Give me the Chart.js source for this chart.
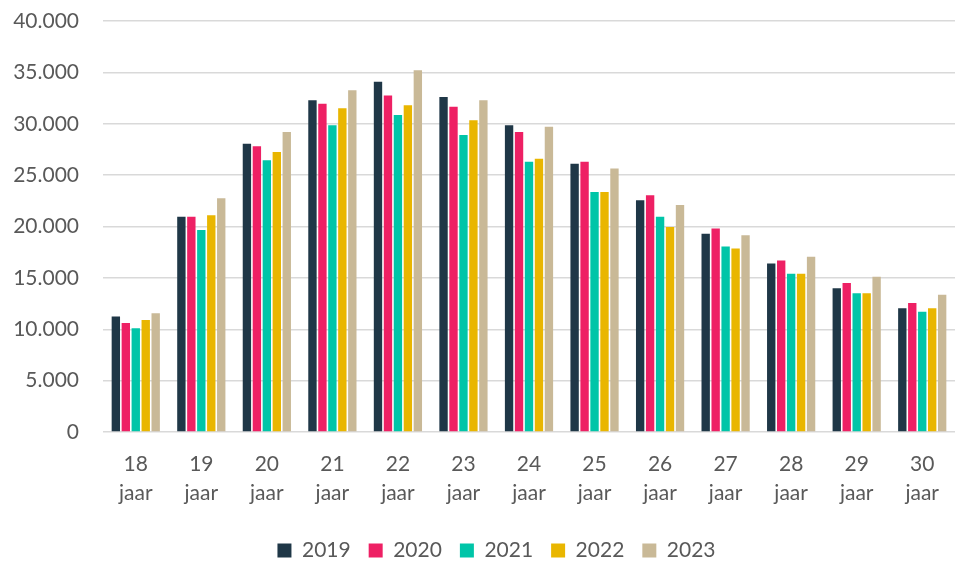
<!DOCTYPE html>
<html>
<head>
<meta charset="utf-8">
<script src="https://cdn.jsdelivr.net/npm/chart.js@4"></script>
<style>
  html, body { margin: 0; padding: 0; background: #fff; }
  #wrap { width: 957px; height: 563px; }
</style>
</head>
<body>
<div id="wrap"><canvas id="chart"></canvas></div>
<script>
// Leeftijden op de x-as
const ages = ['18', '19', '20', '21', '22', '23', '24', '25', '26', '27', '28', '29', '30'];

// Aantallen per jaar
const y2019 = [11250, 20950, 28050, 32300, 34100, 32600, 29850, 26100, 22550, 19300, 16400, 14000, 12050];
const y2020 = [10600, 20950, 27800, 31950, 32750, 31650, 29200, 26300, 23050, 19800, 16700, 14500, 12550];
const y2021 = [10100, 19650, 26450, 29850, 30850, 28900, 26300, 23350, 20950, 18050, 15400, 13500, 11700];
const y2022 = [10900, 21100, 27250, 31500, 31800, 30350, 26600, 23350, 19950, 17850, 15400, 13500, 12050];
const y2023 = [11550, 22750, 29200, 33250, 35200, 32300, 29700, 25650, 22100, 19150, 17050, 15100, 13350];

const yTicks = [0, 5000, 10000, 15000, 20000, 25000, 30000, 35000, 40000];

const years = ['2019', '2020', '2021', '2022', '2023'];
const colors = ['#1f3747', '#ee2064', '#00c5a8', '#e9b600', '#c9b997'];
const series = [y2019, y2020, y2021, y2022, y2023];

const fmt = v => String(v).replace(/\B(?=(\d{3})+(?!\d))/g, '.');

// legend sits a bit right of the canvas centre in the original
const shiftLegend = {
    id: 'shiftLegend',
    afterLayout(chart) {
        if (chart.legend) chart.legend.left += 38;
    }
};

const ctx = document.getElementById('chart').getContext('2d');
new Chart(ctx, {
    type: 'bar',
    data: {
        labels: ages.map(a => [a, 'jaar']),
        datasets: series.map((vals, i) => ({
            label: years[i],
            data: vals,
            backgroundColor: colors[i],
            barPercentage: 0.84,
            categoryPercentage: 0.76
        }))
    },
    plugins: [shiftLegend],
    options: {
        responsive: true,
        maintainAspectRatio: false,
        animation: false,
        layout: { padding: { top: 21, right: 2, bottom: -8, left: 0 } },
        plugins: {
            tooltip: { enabled: false },
            legend: {
                position: 'bottom',
                labels: {
                    boxWidth: 14,
                    boxHeight: 14,
                    padding: 18,
                    color: '#595959',
                    font: { family: 'Lato', size: 21 }
                }
            }
        },
        scales: {
            x: {
                grid: { display: false },
                border: { display: false },
                afterFit: scale => { scale.height += 4; },
                ticks: {
                    color: '#595959',
                    padding: 10,
                    font: { family: 'Lato', size: 21, lineHeight: 1.38 },
                    maxRotation: 0
                }
            },
            y: {
                min: 0,
                max: 40000,
                afterBuildTicks: scale => { scale.ticks = yTicks.map(v => ({ value: v })); },
                afterFit: scale => { scale.width = 103; scale.paddingTop = 0; },
                grid: { color: '#d9d9d9', lineWidth: 1.5, drawTicks: false },
                border: { display: false },
                ticks: {
                    color: '#595959',
                    padding: 24,
                    font: { family: 'Lato', size: 21 },
                    callback: v => fmt(v)
                }
            }
        }
    }
});
</script>
</body>
</html>
